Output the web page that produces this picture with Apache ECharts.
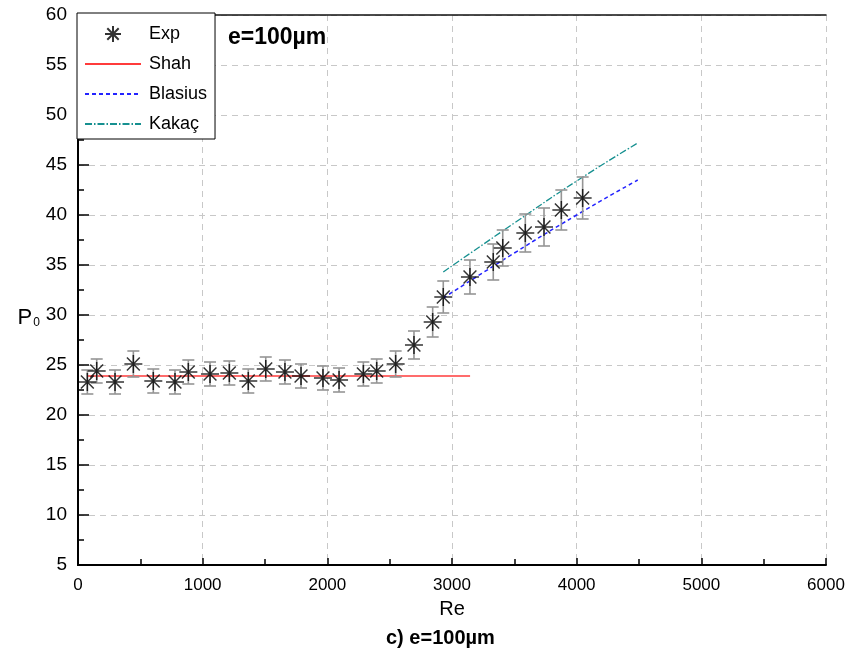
<!DOCTYPE html>
<html><head><meta charset="utf-8">
<script src="https://cdn.jsdelivr.net/npm/echarts@6/dist/echarts.min.js"></script>
<style>html,body{margin:0;padding:0;background:#fff}#c{width:848px;height:656px}</style>
</head><body><div id="c"></div>
<script>
// Experimental data (Re, Po, error half-width)
const expRe  = [75,150,297,444,604,778,885,1059,1214,1366,1506,1660,1789,1965,2094,2289,2396,2548,2695,2845,2930,3144,3331,3407,3588,3738,3877,4048];
const expPo  = [23.3,24.4,23.3,25.1,23.4,23.3,24.3,24.1,24.2,23.4,24.6,24.3,23.9,23.7,23.5,24.1,24.4,25.1,27.0,29.3,31.8,33.8,35.3,36.7,38.2,38.8,40.5,41.7];
const expErr = [1.2,1.2,1.2,1.3,1.2,1.2,1.2,1.2,1.2,1.2,1.2,1.2,1.2,1.2,1.2,1.2,1.2,1.3,1.4,1.5,1.6,1.7,1.8,1.8,1.9,1.9,2.0,2.1];
// Correlations
const shahRe = [75,3145];
const shahPo = [23.9,23.9];
const blasRe = [2930,3500,4000,4490];
const blasPo = [31.7,36.2,40.0,43.5];
const kakRe  = [2930,3500,4000,4490];
const kakPo  = [34.3,39.2,43.4,47.2];
// Axis ticks
const xTicks = [0,1000,2000,3000,4000,5000,6000];
const yTicks = [5,10,15,20,25,30,35,40,45,50,55,60];

const zip = (a,b)=>a.map((v,i)=>[v,b[i]]);
const star = 'path://M8,0L8,16M0,8L16,8M2.3,2.3L13.7,13.7M2.3,13.7L13.7,2.3';
const F = 'Liberation Sans, Arial, sans-serif';

const chart = echarts.init(document.getElementById('c'), null, {renderer:'canvas'});
chart.setOption({
  animation:false,
  backgroundColor:'#fff',
  grid:{left:78,right:22,top:15,bottom:91},
  title:[
    {text:'e=100µm', left:223, top:21, textStyle:{fontFamily:F,fontWeight:'bold',fontSize:23,color:'#000'}},
    {text:'c) e=100µm', left:381, top:623, textStyle:{fontFamily:F,fontWeight:'bold',fontSize:20,color:'#000'}}
  ],
  legend:{
    orient:'vertical', left:77, top:13, padding:[12,8,6,7],
    itemWidth:56, itemHeight:16, itemGap:12,
    borderColor:'#000', borderWidth:1, backgroundColor:'#fff',
    textStyle:{fontFamily:F,fontSize:18,color:'#000',lineHeight:18,padding:[0,0,0,3]},
    data:[
      {name:'Exp'},
      {name:'Shah', itemStyle:{opacity:0}},
      {name:'Blasius', itemStyle:{opacity:0}},
      {name:'Kakaç', itemStyle:{opacity:0}}
    ]
  },
  xAxis:[{
    type:'value', min:xTicks[0], max:xTicks[xTicks.length-1], interval:1000,
    name:'Re', nameLocation:'middle', nameGap:34,
    nameTextStyle:{fontFamily:F,fontSize:20,color:'#000'},
    axisLine:{lineStyle:{color:'#000',width:2}},
    axisTick:{inside:true,length:7,lineStyle:{color:'#000',width:1.5}},
    minorTick:{show:true,splitNumber:2,length:6,lineStyle:{color:'#000',width:1.5}},
    axisLabel:{fontFamily:F,fontSize:17,color:'#000',margin:12,formatter:v=>String(v)},
    splitLine:{show:true,lineStyle:{color:'#c8c8c8',type:[6,5],width:1}}
  },{
    type:'value', position:'top', min:0, max:6000, interval:1000,
    axisLine:{show:true,lineStyle:{color:'#111',width:1.5}},
    axisTick:{show:false}, axisLabel:{show:false}, splitLine:{show:false}
  }],
  yAxis:[{
    type:'value', min:yTicks[0], max:yTicks[yTicks.length-1], interval:5,
    name:'{a|P}{b|0}', nameLocation:'middle', nameRotate:0, nameGap:38,
    nameTextStyle:{padding:[56,0,0,0],rich:{a:{fontFamily:F,fontSize:22,color:'#000'},b:{fontFamily:F,fontSize:12,color:'#000',padding:[10,0,0,1]}}},
    axisLine:{show:true,lineStyle:{color:'#000',width:2}},
    axisTick:{inside:true,length:11,lineStyle:{color:'#000',width:1.5}},
    minorTick:{show:true,splitNumber:2,length:6,lineStyle:{color:'#000',width:1.5}},
    axisLabel:{fontFamily:F,fontSize:19,color:'#000',margin:11},
    splitLine:{show:true,lineStyle:{color:'#c8c8c8',type:[6,5],width:1}}
  },{
    type:'value', position:'right', min:5, max:60, interval:2.5,
    axisLine:{show:true,lineStyle:{color:'#000',width:2}},
    axisTick:{show:true,inside:false,length:3,lineStyle:{color:'#000',width:1.5}},
    axisLabel:{show:false}, splitLine:{show:false}
  }],
  series:[
    {
      name:'Shah', type:'line', data:zip(shahRe,shahPo), symbol:'none',
      lineStyle:{color:'#ff3b3b',width:1.5}, itemStyle:{color:'#ff3b3b'}, z:3
    },
    {
      name:'Blasius', type:'line', data:zip(blasRe,blasPo), symbol:'none', smooth:true,
      lineStyle:{color:'#2323ff',width:1.5,type:[4,3]}, itemStyle:{color:'#2323ff'}, z:3
    },
    {
      name:'Kakaç', type:'line', data:zip(kakRe,kakPo), symbol:'none', smooth:true,
      lineStyle:{color:'#169090',width:1.3,type:[7,2,1.5,2]}, itemStyle:{color:'#169090'}, z:3
    },
    {
      name:'ErrBars', type:'custom', z:4,
      data:expRe.map((r,i)=>[r,expPo[i],expErr[i]]),
      renderItem:function(params,api){
        const x=api.value(0), y=api.value(1), e=api.value(2);
        const t=api.coord([x,y+e]), b=api.coord([x,y-e]);
        const hw=6;
        const st={stroke:'#959595',lineWidth:1.6};
        return {type:'group',children:[
          {type:'line',shape:{x1:t[0],y1:t[1],x2:b[0],y2:b[1]},style:st},
          {type:'line',shape:{x1:t[0]-hw,y1:t[1],x2:t[0]+hw,y2:t[1]},style:st},
          {type:'line',shape:{x1:b[0]-hw,y1:b[1],x2:b[0]+hw,y2:b[1]},style:st}
        ]};
      }
    },
    {
      name:'Exp', type:'scatter', data:zip(expRe,expPo), z:5,
      symbol:star, symbolSize:18,
      itemStyle:{color:'rgba(0,0,0,0)',borderColor:'#000',borderWidth:1.5}
    }
  ]
});
</script></body></html>
